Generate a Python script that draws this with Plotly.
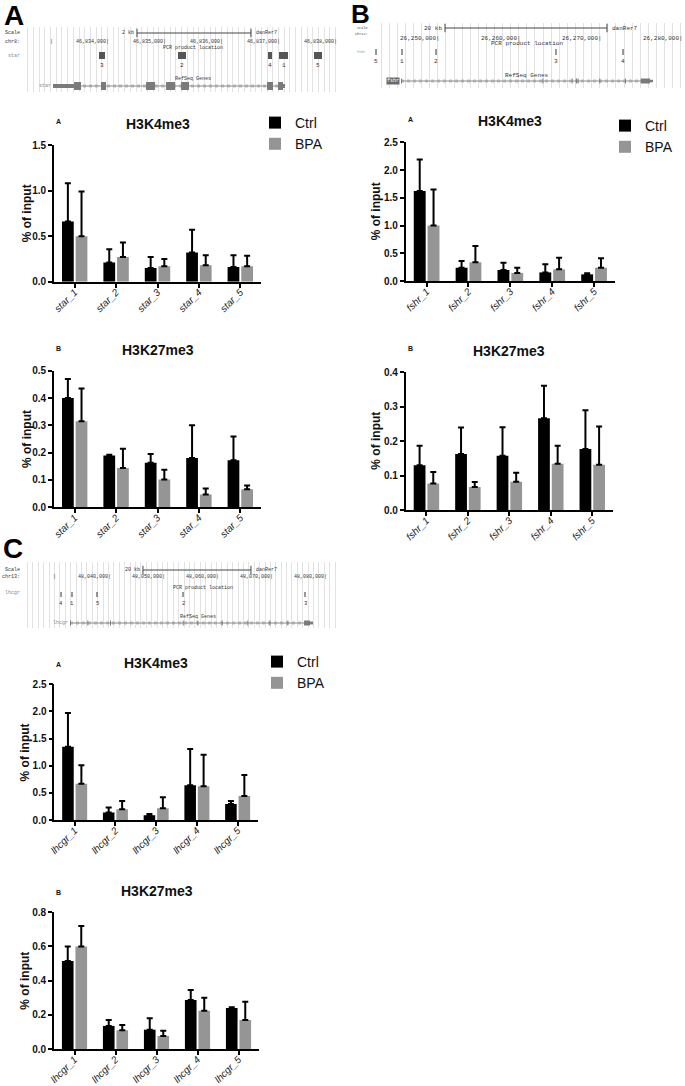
import plotly.graph_objects as go

W, H = 685, 1086
FONT = "Liberation Sans"
MONO = "Liberation Mono"
CTRL_COLOR = "#000000"
BPA_COLOR = "#959595"
BROWSER_TEXT = "#333333"

# ---------------- ChIP-qPCR data (% of input) ----------------
star_sites = ["star_1", "star_2", "star_3", "star_4", "star_5"]
fshr_sites = ["fshr_1", "fshr_2", "fshr_3", "fshr_4", "fshr_5"]
lhcgr_sites = ["lhcgr_1", "lhcgr_2", "lhcgr_3", "lhcgr_4", "lhcgr_5"]

star_k4_ctrl = [0.66, 0.21, 0.15, 0.32, 0.16]
star_k4_ctrl_err = [0.42, 0.145, 0.12, 0.25, 0.13]
star_k4_bpa = [0.50, 0.27, 0.17, 0.18, 0.17]
star_k4_bpa_err = [0.49, 0.16, 0.08, 0.11, 0.115]

star_k27_ctrl = [0.40, 0.19, 0.163, 0.18, 0.172]
star_k27_ctrl_err = [0.07, 0.002, 0.032, 0.12, 0.087]
star_k27_bpa = [0.315, 0.144, 0.102, 0.047, 0.066]
star_k27_bpa_err = [0.12, 0.07, 0.035, 0.022, 0.014]

fshr_k4_ctrl = [1.62, 0.24, 0.20, 0.155, 0.12]
fshr_k4_ctrl_err = [0.57, 0.12, 0.13, 0.145, 0.02]
fshr_k4_bpa = [1.00, 0.34, 0.145, 0.21, 0.24]
fshr_k4_bpa_err = [0.65, 0.29, 0.095, 0.21, 0.17]

fshr_k27_ctrl = [0.130, 0.162, 0.157, 0.266, 0.177]
fshr_k27_ctrl_err = [0.056, 0.077, 0.083, 0.094, 0.112]
fshr_k27_bpa = [0.077, 0.067, 0.082, 0.134, 0.131]
fshr_k27_bpa_err = [0.033, 0.014, 0.026, 0.052, 0.111]

lhcgr_k4_ctrl = [1.35, 0.14, 0.086, 0.64, 0.295]
lhcgr_k4_ctrl_err = [0.62, 0.09, 0.024, 0.67, 0.055]
lhcgr_k4_bpa = [0.67, 0.20, 0.215, 0.62, 0.44]
lhcgr_k4_bpa_err = [0.34, 0.15, 0.205, 0.58, 0.39]

lhcgr_k27_ctrl = [0.515, 0.135, 0.113, 0.287, 0.24]
lhcgr_k27_ctrl_err = [0.085, 0.035, 0.067, 0.058, 0.005]
lhcgr_k27_bpa = [0.60, 0.11, 0.076, 0.224, 0.17]
lhcgr_k27_bpa_err = [0.12, 0.03, 0.031, 0.076, 0.106]

# ---------------- genome browser data (kb) ----------------
star_view = [46832.491, 46838.070]
star_coords = [46834, 46835, 46836, 46837, 46838]
star_window_start = 46833.0
star_scale = [46834.509, 46836.509]
star_pcr_ids = ["3", "2", "4", "1", "5"]
star_pcr_start = [46833.842, 46835.228, 46836.807, 46837.000, 46837.614]
star_pcr_end = [46833.947, 46835.368, 46836.877, 46837.158, 46837.754]
star_gene = [46833.035, 46837.105]
star_exon_start = [46833.404, 46833.877, 46834.667, 46835.018, 46835.281, 46836.789, 46836.982]
star_exon_end = [46833.526, 46833.965, 46834.825, 46835.175, 46835.421, 46836.895, 46837.070]
star_utr_start = [46833.035, 46837.070]
star_utr_end = [46833.404, 46837.105]

fshr_view = [26241.85, 26280.37]
fshr_coords = [26250, 26260, 26270, 26280]
fshr_scale = [26250.74, 26270.74]
fshr_pcr_ids = ["5", "1", "2", "3", "4"]
fshr_pcr_pos = [26242.22, 26245.43, 26249.63, 26264.44, 26272.72]
fshr_gene = [26245.31, 26276.42]
fshr_exon_start = [26245.31, 26262.76, 26266.38, 26266.91, 26267.12, 26269.79, 26272.96, 26274.90]
fshr_exon_end = [26245.43, 26262.88, 26266.50, 26267.03, 26267.24, 26269.91, 26273.08, 26276.05]
fshr_utr_start = [26276.05]
fshr_utr_end = [26276.42]

lhcgr_view = [48023.70, 48082.59]
lhcgr_coords = [48040, 48050, 48060, 48070, 48080]
lhcgr_window_start = 48029.81
lhcgr_scale = [48046.1, 48066.1]
lhcgr_pcr_ids = ["4", "1", "5", "2", "3"]
lhcgr_pcr_pos = [48030.93, 48032.96, 48037.59, 48053.52, 48076.11]
lhcgr_gene = [48032.59, 48077.59]
lhcgr_exon_start = [48032.59, 48035.80, 48040.00, 48053.46, 48056.17, 48060.68, 48065.43, 48069.51, 48072.84, 48075.93]
lhcgr_exon_end = [48032.77, 48035.98, 48040.18, 48053.64, 48056.35, 48060.86, 48065.61, 48069.69, 48073.02, 48077.04]
lhcgr_utr_start = [48077.04]
lhcgr_utr_end = [48077.59]


def xd(a, b):
    return [a / W, b / W]


def yd(top, bottom):
    return [1 - bottom / H, 1 - top / H]


fig = go.Figure()
annotations = []
shapes = []

panels = [
    dict(sites=star_sites, c=star_k4_ctrl, ce=star_k4_ctrl_err, b=star_k4_bpa, be=star_k4_bpa_err,
         title="H3K4me3", letter="A", ymax=1.5, dtick=0.5, xdom=(54, 261), ydom=(145, 281.7),
         legend="legend", ylab=-27, lshift=23),
    dict(sites=star_sites, c=star_k27_ctrl, ce=star_k27_ctrl_err, b=star_k27_bpa, be=star_k27_bpa_err,
         title="H3K27me3", letter="B", ymax=0.5, dtick=0.1, xdom=(54, 261), ydom=(370.7, 507.3),
         legend=None, ylab=-27, lshift=22),
    dict(sites=fshr_sites, c=fshr_k4_ctrl, ce=fshr_k4_ctrl_err, b=fshr_k4_bpa, be=fshr_k4_bpa_err,
         title="H3K4me3", letter="A", ymax=2.5, dtick=0.5, xdom=(405.7, 615), ydom=(142.3, 281),
         legend="legend2", ylab=-30, lshift=23),
    dict(sites=fshr_sites, c=fshr_k27_ctrl, ce=fshr_k27_ctrl_err, b=fshr_k27_bpa, be=fshr_k27_bpa_err,
         title="H3K27me3", letter="B", ymax=0.4, dtick=0.1, xdom=(405.7, 613), ydom=(372, 510),
         legend=None, ylab=-30, lshift=24),
    dict(sites=lhcgr_sites, c=lhcgr_k4_ctrl, ce=lhcgr_k4_ctrl_err, b=lhcgr_k4_bpa, be=lhcgr_k4_bpa_err,
         title="H3K4me3", letter="A", ymax=2.5, dtick=0.5, xdom=(54.3, 258), ydom=(684.3, 820),
         legend="legend3", ylab=-29, lshift=20),
    dict(sites=lhcgr_sites, c=lhcgr_k27_ctrl, ce=lhcgr_k27_ctrl_err, b=lhcgr_k27_bpa, be=lhcgr_k27_bpa_err,
         title="H3K27me3", letter="B", ymax=0.8, dtick=0.2, xdom=(54, 259), ydom=(912.3, 1049),
         legend=None, ylab=-29, lshift=20),
]

layout_axes = {}
for i, p in enumerate(panels, start=1):
    sfx = "" if i == 1 else str(i)
    xname, yname = "x" + sfx, "y" + sfx
    for name, vals, errs, color in (("Ctrl", p["c"], p["ce"], CTRL_COLOR),
                                    ("BPA", p["b"], p["be"], BPA_COLOR)):
        fig.add_trace(go.Bar(
            x=p["sites"], y=vals, name=name, xaxis=xname, yaxis=yname,
            marker=dict(color=color, line=dict(width=0)),
            error_y=dict(type="data", symmetric=False, array=errs, arrayminus=[0] * len(errs),
                         color="black", thickness=2, width=3),
            showlegend=p["legend"] is not None,
            legend=p["legend"] if p["legend"] else "legend",
            hoverinfo="skip",
        ))
    layout_axes["xaxis" + sfx] = dict(
        domain=xd(*p["xdom"]), anchor=yname, type="category", range=[-0.5, 4.5],
        automargin=False, ticklabelstandoff=-5,
        showline=True, linecolor="black", linewidth=1.6, ticks="outside", ticklen=4,
        tickwidth=1.5, tickcolor="black", tickangle=-45, showgrid=False, zeroline=False,
        tickfont=dict(family=FONT, size=10, color="#222", style="italic"),
    )
    layout_axes["yaxis" + sfx] = dict(
        domain=yd(*p["ydom"]), anchor=xname, range=[0, p["ymax"]], tick0=0, dtick=p["dtick"],
        automargin=False,
        tickformat=".1f", showline=True, linecolor="black", linewidth=1.6, ticks="outside",
        ticklen=4, tickwidth=1.5, tickcolor="black", showgrid=False, zeroline=False,
        tickfont=dict(family=FONT, size=10, color="#111", weight="bold"),
    )
    annotations.append(dict(text="% of input", textangle=-90, x=0, xref=xname + " domain",
                            xshift=p["ylab"], y=0.5, yref=yname + " domain", showarrow=False,
                            xanchor="center", yanchor="middle",
                            font=dict(family=FONT, size=12, color="#111", weight="bold")))
    annotations.append(dict(text=p["title"], x=0.5, xref=xname + " domain", y=1,
                            yref=yname + " domain", yshift=21, showarrow=False,
                            xanchor="center", yanchor="middle",
                            font=dict(family=FONT, size=14, color="#111", weight="bold")))
    annotations.append(dict(text=p["letter"], x=0, xref=xname + " domain", y=1,
                            yref=yname + " domain", yshift=p["lshift"], showarrow=False,
                            xanchor="left", yanchor="middle",
                            font=dict(family=FONT, size=7, color="#111", weight="bold")))


# ---------------- genome browser panels ----------------
def browser(idx, view, dtick, xdom_px, ydom_px):
    xn, yn = "x" + str(idx), "y" + str(idx)
    layout_axes["xaxis" + str(idx)] = dict(
        domain=xd(*xdom_px), anchor=yn, range=view, showgrid=True, gridcolor="#e2e2e2",
        gridwidth=1, dtick=dtick, tick0=view[0], showticklabels=False, zeroline=False,
        showline=False, ticks="", fixedrange=True, automargin=False)
    layout_axes["yaxis" + str(idx)] = dict(
        domain=yd(*ydom_px), anchor=xn, range=[ydom_px[1], ydom_px[0]], showgrid=False,
        showticklabels=False, zeroline=False, showline=False, ticks="", fixedrange=True,
        automargin=False)
    return xn, yn


def txt(text, x, y, xref, yref, size, anchor="center", color=BROWSER_TEXT, **kw):
    d = dict(text=text, x=x, y=y, xref=xref, yref=yref, showarrow=False, xanchor=anchor,
             yanchor="middle", font=dict(family=MONO, size=size, color=color), borderpad=0)
    d.update(kw)
    annotations.append(d)


def draw_gene(xn, yn, gene, ex_s, ex_e, utr_s, utr_e, ygene, half, color="#7a7a7a"):
    fig.add_trace(go.Scatter(x=gene, y=[ygene, ygene], xaxis=xn, yaxis=yn, mode="lines",
                             line=dict(color="#8a8a8a", width=1), showlegend=False,
                             hoverinfo="skip"))
    fig.add_trace(go.Scatter(x=gene, y=[ygene, ygene], xaxis=xn, yaxis=yn, mode="lines",
                             line=dict(color="#9a9a9a", width=3, dash="dot"), opacity=0.6,
                             showlegend=False, hoverinfo="skip"))
    for s, e in zip(ex_s, ex_e):
        shapes.append(dict(type="rect", xref=xn, yref=yn, x0=s, x1=e, y0=ygene - half,
                           y1=ygene + half, fillcolor=color, line=dict(width=0)))
    for s, e in zip(utr_s, utr_e):
        shapes.append(dict(type="rect", xref=xn, yref=yn, x0=s, x1=e, y0=ygene - half / 2,
                           y1=ygene + half / 2, fillcolor=color, line=dict(width=0)))


def draw_scale(xn, yn, scale, ys, label, fs):
    fig.add_trace(go.Scatter(x=scale, y=[ys, ys], xaxis=xn, yaxis=yn, mode="lines+markers",
                             line=dict(color="#444", width=1),
                             marker=dict(symbol="line-ns-open", size=6,
                                         line=dict(color="#444", width=1)),
                             showlegend=False, hoverinfo="skip"))
    txt(label, scale[0], ys, xn, yn, fs, anchor="right", xshift=-2)
    txt("danRer7", scale[1], ys, xn, yn, fs, anchor="left", xshift=4)


# Panel A browser (star)
xn, yn = browser(7, star_view, 0.1, (22, 340), (27, 92))
draw_scale(xn, yn, star_scale, 33, "2 kb", 5)
txt("|", star_window_start, 42, xn, yn, 5)
for c in star_coords:
    txt(f"{int(c * 1000):,}|", c, 42, xn, yn, 5, anchor="right", xshift=2)
txt("PCR product location", 0.538, 48, xn + " domain", yn, 5)
for lab, s, e in zip(star_pcr_ids, star_pcr_start, star_pcr_end):
    shapes.append(dict(type="rect", xref=xn, yref=yn, x0=s, x1=e, y0=52, y1=59,
                       fillcolor="#555555", line=dict(width=0)))
    txt(lab, (s + e) / 2, 65, xn, yn, 6)
txt("RefSeq Genes", 0.538, 79, xn + " domain", yn, 5)
draw_gene(xn, yn, star_gene, star_exon_start, star_exon_end, star_utr_start, star_utr_end, 86, 4)
txt("star", star_gene[0], 86, xn, yn, 5, anchor="right", color="#888", xshift=-1)
txt("Scale", 21 / W, 33, "paper", yn, 5, anchor="right")
txt("chr8:", 21 / W, 42, "paper", yn, 5, anchor="right")
txt("star", 21 / W, 56, "paper", yn, 5, anchor="right", color="#888")

# Panel B browser (fshr)
xn, yn = browser(8, fshr_view, 1, (373, 685), (23, 88))
draw_scale(xn, yn, fshr_scale, 28, "20 kb", 6)
for c in fshr_coords:
    txt(f"{int(c * 1000):,}|", c, 38, xn, yn, 6, anchor="right", xshift=2)
txt("PCR product location", 0.494, 43, xn + " domain", yn, 6)
for lab, pos in zip(fshr_pcr_ids, fshr_pcr_pos):
    shapes.append(dict(type="line", xref=xn, yref=yn, x0=pos, x1=pos, y0=49, y1=55,
                       line=dict(color="#333", width=1)))
    txt(lab, pos, 61, xn, yn, 6)
txt("RefSeq Genes", 0.494, 75, xn + " domain", yn, 6)
draw_gene(xn, yn, fshr_gene, fshr_exon_start, fshr_exon_end, fshr_utr_start, fshr_utr_end, 81, 2.5)
txt("fshr", fshr_gene[0], 81, xn, yn, 5, anchor="right", color="white", xshift=-1,
    bgcolor="#6a6a6a")
txt("Scale", 369 / W, 28, "paper", yn, 3.5, anchor="right")
txt("chr12:", 369 / W, 33.5, "paper", yn, 3.5, anchor="right")
txt("fshr", 366 / W, 52, "paper", yn, 3.5, anchor="right", color="#888")

# Panel C browser (lhcgr)
xn, yn = browser(9, lhcgr_view, 1, (22, 340), (562, 628))
draw_scale(xn, yn, lhcgr_scale, 570, "20 kb", 5)
txt("|", lhcgr_window_start, 577, xn, yn, 5)
for c in lhcgr_coords:
    txt(f"{int(c * 1000):,}|", c, 577, xn, yn, 5, anchor="right", xshift=2)
txt("PCR product location", 0.569, 588, xn + " domain", yn, 5)
for lab, pos in zip(lhcgr_pcr_ids, lhcgr_pcr_pos):
    shapes.append(dict(type="line", xref=xn, yref=yn, x0=pos, x1=pos, y0=592, y1=597,
                       line=dict(color="#333", width=1)))
    txt(lab, pos, 603, xn, yn, 5.5)
txt("RefSeq Genes", 0.553, 617, xn + " domain", yn, 5)
draw_gene(xn, yn, lhcgr_gene, lhcgr_exon_start, lhcgr_exon_end, lhcgr_utr_start, lhcgr_utr_end, 623, 2.5)
txt("lhcgr", lhcgr_gene[0], 623, xn, yn, 5, anchor="right", color="#888", xshift=-1)
txt("Scale", 21 / W, 570, "paper", yn, 5, anchor="right")
txt("chr13:", 21 / W, 577, "paper", yn, 5, anchor="right")
txt("lhcgr", 21 / W, 593, "paper", yn, 5, anchor="right", color="#888")

# Big panel letters
for letter, xpx, ypx, fsz in (("A", 3, 15, 28), ("B", 350, 14, 26), ("C", 2, 548, 28)):
    annotations.append(dict(text=letter, x=xpx / W, y=1 - ypx / H, xref="paper", yref="paper",
                            showarrow=False, xanchor="left", yanchor="middle", borderpad=0,
                            font=dict(family=FONT, size=fsz, color="black", weight="bold")))

legend_common = dict(xanchor="left", yanchor="top", bgcolor="rgba(0,0,0,0)", borderwidth=0,
                     font=dict(family=FONT, size=14, color="#111"), tracegroupgap=0,
                     itemclick=False, itemdoubleclick=False)

fig.update_layout(
    template="none",
    width=W, height=H, margin=dict(l=0, r=0, t=0, b=0, autoexpand=False),
    paper_bgcolor="white", plot_bgcolor="white",
    barmode="group", bargap=0.34, bargroupgap=0.14,
    font=dict(family=FONT),
    legend=dict(x=255 / W, y=1 - 107 / H, **legend_common),
    legend2=dict(x=605 / W, y=1 - 110 / H, **legend_common),
    legend3=dict(x=257 / W, y=1 - 646 / H, **legend_common),
    annotations=annotations, shapes=shapes,
    **layout_axes,
)

fig.write_html("out.html", config={"displayModeBar": False},
               post_script="document.body.style.margin='0';")
